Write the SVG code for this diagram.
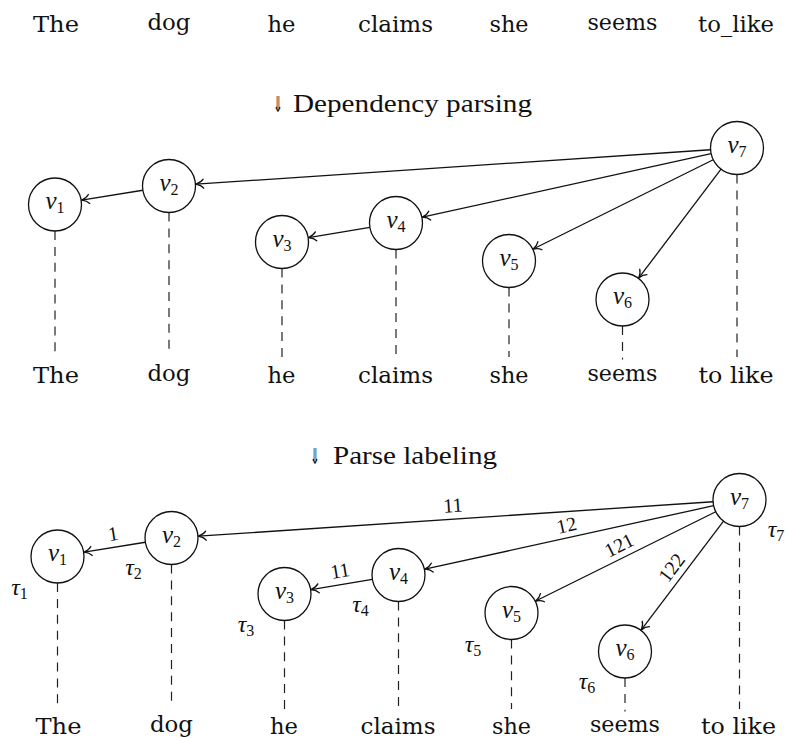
<svg xmlns="http://www.w3.org/2000/svg" width="785" height="738" viewBox="0 0 785 738">
  <defs>
    <marker id="tip" viewBox="-10 -6 12 12" refX="0" refY="0" markerWidth="12" markerHeight="12" markerUnits="userSpaceOnUse" orient="auto" overflow="visible">
      <path d="M -7.5 -4.5 C -6 -2.5 -3 -0.8 0 0 C -3 0.8 -6 2.5 -7.5 4.5" fill="none" stroke="#111" stroke-width="1.3" stroke-linecap="round"/>
    </marker>
  </defs>
  <rect width="785" height="738" fill="#fff"/>

  <!-- input sentence -->
  <g id="sentence" fill="#111" text-anchor="middle">
    <text id="w0-the" font-family="DejaVu Serif Condensed" font-size="22" x="56" y="32" textLength="46" lengthAdjust="spacingAndGlyphs">The</text>
    <text id="w0-dog" font-family="DejaVu Serif Condensed" font-size="22" x="169" y="29.5" textLength="43" lengthAdjust="spacingAndGlyphs">dog</text>
    <text id="w0-he" font-family="DejaVu Serif Condensed" font-size="22" x="281.5" y="32" textLength="28" lengthAdjust="spacingAndGlyphs">he</text>
    <text id="w0-claims" font-family="DejaVu Serif Condensed" font-size="22" x="395.5" y="32" textLength="75" lengthAdjust="spacingAndGlyphs">claims</text>
    <text id="w0-she" font-family="DejaVu Serif Condensed" font-size="22" x="509" y="32" textLength="39" lengthAdjust="spacingAndGlyphs">she</text>
    <text id="w0-seems" font-family="DejaVu Serif Condensed" font-size="22" x="622.5" y="30" textLength="70" lengthAdjust="spacingAndGlyphs">seems</text>
    <text id="w0-tolike" font-family="DejaVu Serif Condensed" font-size="22" x="736" y="32" textLength="76" lengthAdjust="spacingAndGlyphs">to_like</text>
  </g>

  <!-- step headings -->
  <g id="step-dep" fill="#111">
    <text font-family="DejaVu Sans" font-size="22" x="273" y="112" textLength="10" lengthAdjust="spacingAndGlyphs">⇓&#xFE0E;</text>
    <text font-family="Liberation Serif" font-size="25" x="293" y="112" textLength="239" lengthAdjust="spacingAndGlyphs">Dependency parsing</text>
  </g>
  <g id="step-label" fill="#111">
    <text font-family="DejaVu Sans" font-size="22" x="310" y="464" textLength="10" lengthAdjust="spacingAndGlyphs">⇓&#xFE0E;</text>
    <text font-family="Liberation Serif" font-size="25" x="333" y="464" textLength="164" lengthAdjust="spacingAndGlyphs">Parse labeling</text>
  </g>

  <!-- connectors: dependency arcs and word links -->
  <g id="connectors">
    <g stroke="#111" stroke-width="1.3" fill="none" marker-end="url(#tip)">
      <!-- dependency tree -->
      <line x1="710.56" y1="149.77" x2="195.94" y2="184.20"/>
      <line x1="142.84" y1="190.25" x2="81.65" y2="200.18"/>
      <line x1="711.12" y1="153.69" x2="422.37" y2="217.20"/>
      <line x1="369.86" y1="227.36" x2="308.63" y2="237.56"/>
      <line x1="713.26" y1="159.77" x2="533.19" y2="249.01"/>
      <line x1="721.02" y1="169.14" x2="638.78" y2="277.96"/>
      <!-- labelled tree -->
      <line x1="713.06" y1="501.77" x2="198.44" y2="536.20"/>
      <line x1="145.34" y1="542.25" x2="84.15" y2="552.18"/>
      <line x1="713.62" y1="505.69" x2="424.87" y2="569.20"/>
      <line x1="372.36" y1="579.36" x2="311.13" y2="589.56"/>
      <line x1="715.76" y1="511.77" x2="535.69" y2="601.01"/>
      <line x1="723.52" y1="521.14" x2="641.28" y2="629.96"/>
    </g>
    <g stroke="#222" stroke-width="1.2" fill="none" stroke-dasharray="9 6.9">
      <line x1="55" y1="231" x2="55" y2="357"/>
      <line x1="169" y1="212.5" x2="169" y2="353"/>
      <line x1="282" y1="268.5" x2="282" y2="357"/>
      <line x1="396" y1="249.5" x2="396" y2="357"/>
      <line x1="509" y1="287.5" x2="509" y2="357"/>
      <line x1="622.5" y1="326" x2="622.5" y2="359.5"/>
      <line x1="737" y1="174.5" x2="737" y2="357"/>
      <line x1="57.5" y1="583" x2="57.5" y2="709"/>
      <line x1="171.5" y1="564.5" x2="171.5" y2="705"/>
      <line x1="284.5" y1="620.5" x2="284.5" y2="709"/>
      <line x1="398.5" y1="601.5" x2="398.5" y2="709"/>
      <line x1="511.5" y1="639.5" x2="511.5" y2="709"/>
      <line x1="625" y1="678" x2="625" y2="711.5"/>
      <line x1="739.5" y1="526.5" x2="739.5" y2="709"/>
    </g>
    <!-- arc labels -->
    <g fill="#111" text-anchor="middle">
      <text font-family="Liberation Serif" font-size="20" x="453" y="512" transform="rotate(-3.83 453 505)">11</text>
      <text font-family="Liberation Serif" font-size="20" x="113" y="540.5" transform="rotate(-9.22 113 533.5)">1</text>
      <text font-family="Liberation Serif" font-size="20" x="566.5" y="532" transform="rotate(-12.4 566.5 525)">12</text>
      <text font-family="Liberation Serif" font-size="20" x="340" y="577.5" transform="rotate(-9.46 340 570.5)">11</text>
      <text font-family="Liberation Serif" font-size="20" x="619" y="552" transform="rotate(-26.37 619 545)">121</text>
      <text font-family="Liberation Serif" font-size="20" x="671.5" y="574.5" transform="rotate(-52.93 671.5 567.5)">122</text>
    </g>
  </g>

  <!-- dependency tree nodes -->
  <g id="dep-nodes" fill="#111" text-anchor="middle">
    <g id="d-v1"><circle cx="55" cy="204.5" r="26.5" fill="#fff" stroke="#111" stroke-width="1.3"/><text font-family="Liberation Serif" font-size="25" font-style="italic" x="55" y="209">v<tspan font-size="16" font-style="normal" dy="4">1</tspan></text></g>
    <g id="d-v2"><circle cx="169" cy="186" r="26.5" fill="#fff" stroke="#111" stroke-width="1.3"/><text font-family="Liberation Serif" font-size="25" font-style="italic" x="169" y="190.5">v<tspan font-size="16" font-style="normal" dy="4">2</tspan></text></g>
    <g id="d-v3"><circle cx="282" cy="242" r="26.5" fill="#fff" stroke="#111" stroke-width="1.3"/><text font-family="Liberation Serif" font-size="25" font-style="italic" x="282" y="246.5">v<tspan font-size="16" font-style="normal" dy="4">3</tspan></text></g>
    <g id="d-v4"><circle cx="396" cy="223" r="26.5" fill="#fff" stroke="#111" stroke-width="1.3"/><text font-family="Liberation Serif" font-size="25" font-style="italic" x="396" y="227.5">v<tspan font-size="16" font-style="normal" dy="4">4</tspan></text></g>
    <g id="d-v5"><circle cx="509" cy="261" r="26.5" fill="#fff" stroke="#111" stroke-width="1.3"/><text font-family="Liberation Serif" font-size="25" font-style="italic" x="509" y="265.5">v<tspan font-size="16" font-style="normal" dy="4">5</tspan></text></g>
    <g id="d-v6"><circle cx="622.5" cy="299.5" r="26.5" fill="#fff" stroke="#111" stroke-width="1.3"/><text font-family="Liberation Serif" font-size="25" font-style="italic" x="622.5" y="304">v<tspan font-size="16" font-style="normal" dy="4">6</tspan></text></g>
    <g id="d-v7"><circle cx="737" cy="148" r="26.5" fill="#fff" stroke="#111" stroke-width="1.3"/><text font-family="Liberation Serif" font-size="25" font-style="italic" x="737" y="152.5">v<tspan font-size="16" font-style="normal" dy="4">7</tspan></text></g>
  </g>

  <!-- labelled tree nodes with their labels tau_i -->
  <g id="lab-nodes" fill="#111" text-anchor="middle">
    <g id="l-v1"><circle cx="57.5" cy="556.5" r="26.5" fill="#fff" stroke="#111" stroke-width="1.3"/><text font-family="Liberation Serif" font-size="25" font-style="italic" x="57.5" y="561">v<tspan font-size="16" font-style="normal" dy="4">1</tspan></text><text font-family="Liberation Serif" font-size="24" font-style="italic" x="19.5" y="594.5">τ<tspan font-size="16" font-style="normal" dy="4">1</tspan></text></g>
    <g id="l-v2"><circle cx="171.5" cy="538" r="26.5" fill="#fff" stroke="#111" stroke-width="1.3"/><text font-family="Liberation Serif" font-size="25" font-style="italic" x="171.5" y="542.5">v<tspan font-size="16" font-style="normal" dy="4">2</tspan></text><text font-family="Liberation Serif" font-size="24" font-style="italic" x="133.5" y="575">τ<tspan font-size="16" font-style="normal" dy="4">2</tspan></text></g>
    <g id="l-v3"><circle cx="284.5" cy="594" r="26.5" fill="#fff" stroke="#111" stroke-width="1.3"/><text font-family="Liberation Serif" font-size="25" font-style="italic" x="284.5" y="598.5">v<tspan font-size="16" font-style="normal" dy="4">3</tspan></text><text font-family="Liberation Serif" font-size="24" font-style="italic" x="246" y="632">τ<tspan font-size="16" font-style="normal" dy="4">3</tspan></text></g>
    <g id="l-v4"><circle cx="398.5" cy="575" r="26.5" fill="#fff" stroke="#111" stroke-width="1.3"/><text font-family="Liberation Serif" font-size="25" font-style="italic" x="398.5" y="579.5">v<tspan font-size="16" font-style="normal" dy="4">4</tspan></text><text font-family="Liberation Serif" font-size="24" font-style="italic" x="360.5" y="612">τ<tspan font-size="16" font-style="normal" dy="4">4</tspan></text></g>
    <g id="l-v5"><circle cx="511.5" cy="613" r="26.5" fill="#fff" stroke="#111" stroke-width="1.3"/><text font-family="Liberation Serif" font-size="25" font-style="italic" x="511.5" y="617.5">v<tspan font-size="16" font-style="normal" dy="4">5</tspan></text><text font-family="Liberation Serif" font-size="24" font-style="italic" x="473" y="652">τ<tspan font-size="16" font-style="normal" dy="4">5</tspan></text></g>
    <g id="l-v6"><circle cx="625" cy="651.5" r="26.5" fill="#fff" stroke="#111" stroke-width="1.3"/><text font-family="Liberation Serif" font-size="25" font-style="italic" x="625" y="656">v<tspan font-size="16" font-style="normal" dy="4">6</tspan></text><text font-family="Liberation Serif" font-size="24" font-style="italic" x="587" y="689">τ<tspan font-size="16" font-style="normal" dy="4">6</tspan></text></g>
    <g id="l-v7"><circle cx="739.5" cy="500" r="26.5" fill="#fff" stroke="#111" stroke-width="1.3"/><text font-family="Liberation Serif" font-size="25" font-style="italic" x="739.5" y="504.5">v<tspan font-size="16" font-style="normal" dy="4">7</tspan></text><text font-family="Liberation Serif" font-size="24" font-style="italic" x="776" y="537">τ<tspan font-size="16" font-style="normal" dy="4">7</tspan></text></g>
  </g>

  <!-- dependency tree words -->
  <g id="d-words" fill="#111" text-anchor="middle">
    <text id="w1-the" font-family="DejaVu Serif Condensed" font-size="22" x="56" y="383" textLength="46" lengthAdjust="spacingAndGlyphs">The</text>
    <text id="w1-dog" font-family="DejaVu Serif Condensed" font-size="22" x="169" y="380.5" textLength="43" lengthAdjust="spacingAndGlyphs">dog</text>
    <text id="w1-he" font-family="DejaVu Serif Condensed" font-size="22" x="281.5" y="383" textLength="28" lengthAdjust="spacingAndGlyphs">he</text>
    <text id="w1-claims" font-family="DejaVu Serif Condensed" font-size="22" x="395.5" y="383" textLength="75" lengthAdjust="spacingAndGlyphs">claims</text>
    <text id="w1-she" font-family="DejaVu Serif Condensed" font-size="22" x="509" y="383" textLength="39" lengthAdjust="spacingAndGlyphs">she</text>
    <text id="w1-seems" font-family="DejaVu Serif Condensed" font-size="22" x="622.5" y="381" textLength="70" lengthAdjust="spacingAndGlyphs">seems</text>
    <text id="w1-tolike" font-family="DejaVu Serif Condensed" font-size="22" x="736" y="383" textLength="75" lengthAdjust="spacingAndGlyphs">to like</text>
  </g>

  <!-- labelled tree words -->
  <g id="l-words" fill="#111" text-anchor="middle">
    <text id="w2-the" font-family="DejaVu Serif Condensed" font-size="22" x="58.5" y="734" textLength="46" lengthAdjust="spacingAndGlyphs">The</text>
    <text id="w2-dog" font-family="DejaVu Serif Condensed" font-size="22" x="171.5" y="731.5" textLength="43" lengthAdjust="spacingAndGlyphs">dog</text>
    <text id="w2-he" font-family="DejaVu Serif Condensed" font-size="22" x="284" y="734" textLength="28" lengthAdjust="spacingAndGlyphs">he</text>
    <text id="w2-claims" font-family="DejaVu Serif Condensed" font-size="22" x="398" y="734" textLength="75" lengthAdjust="spacingAndGlyphs">claims</text>
    <text id="w2-she" font-family="DejaVu Serif Condensed" font-size="22" x="511.5" y="734" textLength="39" lengthAdjust="spacingAndGlyphs">she</text>
    <text id="w2-seems" font-family="DejaVu Serif Condensed" font-size="22" x="625" y="732" textLength="70" lengthAdjust="spacingAndGlyphs">seems</text>
    <text id="w2-tolike" font-family="DejaVu Serif Condensed" font-size="22" x="738.5" y="734" textLength="75" lengthAdjust="spacingAndGlyphs">to like</text>
  </g>
</svg>
